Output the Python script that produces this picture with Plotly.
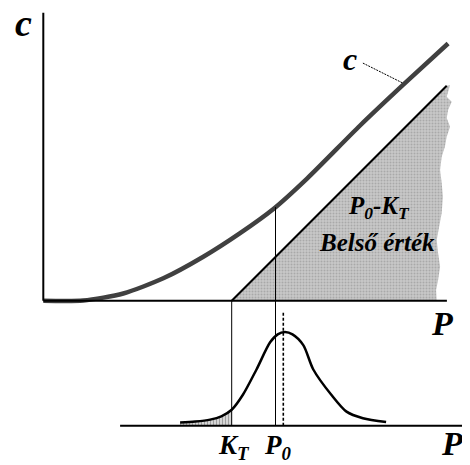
import numpy as np
import plotly.graph_objects as go

# ---- data ----
K_T = 47.1          # strike
P0 = 58.05          # current price
P_MEAN = 60.0       # mean of the distribution (dashed line)

# option value curve c(P)
c_p = [0, 10, 20, 30, 40, 49.2, 57.6, 66, 79.2, 90, 101.2]
c_v = [0, 0.05, 1.8, 5.6, 11.0, 16.9, 23.0, 30.6, 43.8, 54.0, 64.3]

# intrinsic value line (P - K_T)
intr_p = [K_T, 100.85]
intr_v = [0, 53.75]

# wavy right edge of shaded intrinsic area (top to bottom)
edge_p = [101.7, 100.85, 102.1, 101.2, 100.85, 101.7, 100.85, 100.4, 99.6, 99.2,
          99.6, 99.9, 99.6, 98.9, 98.35, 98.7, 99.2, 98.7, 98.2, 98.35]
edge_v = [53.9, 51.0, 49.75, 47.7, 45.7, 43.5, 41.0, 38.5, 36.0, 32.7,
          29.4, 26.0, 21.9, 18.5, 15.2, 11.9, 8.5, 5.2, 2.7, 0.0]

# price distribution at T
d_p = [34.2, 38, 41.7, 44.5, 47.1, 49.9, 53.3, 56.7, 58.6, 60.4, 62.3, 65, 67.5, 72.0, 75.8, 79.9, 85.7]
d_v = [0.035, 0.045, 0.065, 0.10, 0.17, 0.33, 0.60, 0.89, 0.975, 1.0, 0.975, 0.86, 0.60, 0.33, 0.15, 0.08, 0.04]

# ---- layout constants (page body has an 8px margin) ----
W, H = 462, 457
X_RANGE = [-8.825, 106.675]
Y_RANGE = [-41.075, 73.175]
Y2_RANGE = [-0.4194, 4.4578]


def y2_to_y(v):
    return Y_RANGE[0] + (v - Y2_RANGE[0]) / (Y2_RANGE[1] - Y2_RANGE[0]) * (Y_RANGE[1] - Y_RANGE[0])


FONT = "Liberation Serif, Times New Roman, serif"

fig = go.Figure()

# shaded intrinsic value area
sh_x = intr_p + edge_p + [K_T]
sh_y = intr_v + edge_v + [0]
fig.add_trace(go.Scatter(
    x=sh_x, y=sh_y, mode="lines", fill="toself", line=dict(width=0, color="rgba(0,0,0,0)"),
    fillcolor="#c4c4c4",
    fillpattern=dict(shape=".", bgcolor="#c8c8c8", fgcolor="#8a8a8a", size=3, solidity=0.35),
    hoverinfo="skip", showlegend=False))

# intrinsic line
fig.add_trace(go.Scatter(x=intr_p, y=intr_v, mode="lines",
                         line=dict(color="black", width=2), showlegend=False, hoverinfo="skip"))

# hatched tail of distribution (left of K_T)
tail_p = [p for p in d_p if p <= K_T]
tail_v = [v for p, v in zip(d_p, d_v) if p <= K_T]
fig.add_trace(go.Scatter(
    x=tail_p, y=tail_v, yaxis="y2", mode="lines", fill="tozeroy",
    line=dict(width=0, color="rgba(0,0,0,0)", shape="spline"),
    fillcolor="rgba(0,0,0,0)",
    fillpattern=dict(shape="|", bgcolor="#e8e8e8", fgcolor="#555555", size=3, solidity=0.5),
    hoverinfo="skip", showlegend=False))

# distribution curve
fig.add_trace(go.Scatter(x=d_p, y=d_v, yaxis="y2", mode="lines",
                         line=dict(color="black", width=2.5, shape="spline", smoothing=0.8),
                         showlegend=False, hoverinfo="skip"))

# option value curve
fig.add_trace(go.Scatter(x=c_p, y=c_v, mode="lines",
                         line=dict(color="#404040", width=4.5, shape="spline", smoothing=0.7),
                         showlegend=False, hoverinfo="skip"))

base_y = y2_to_y(0)
c_at_p0 = float(np.interp(P0, c_p, c_v))

shapes = [
    # upper axes
    dict(type="line", xref="x", yref="y", x0=0, x1=0, y0=0, y1=72.0, line=dict(color="black", width=2)),
    dict(type="line", xref="x", yref="y", x0=0, x1=100.9, y0=0, y1=0, line=dict(color="black", width=2)),
    # lower axis
    dict(type="line", xref="x", yref="y2", x0=19.2, x1=104.9, y0=0, y1=0, line=dict(color="black", width=2)),
    # verticals
    dict(type="line", xref="x", yref="y", x0=K_T, x1=K_T, y0=0, y1=base_y, line=dict(color="black", width=1)),
    dict(type="line", xref="x", yref="y", x0=P0, x1=P0, y0=c_at_p0, y1=base_y, line=dict(color="black", width=1)),
    dict(type="line", xref="x", yref="y2", x0=P_MEAN, x1=P_MEAN, y0=0, y1=1.22,
         line=dict(color="black", width=1.6, dash="3px,2px")),
    # leader line of "c" label
    dict(type="line", xref="x", yref="y", x0=79.9, x1=89.9, y0=59.4, y1=54.4,
         line=dict(color="black", width=1, dash="2px,1px")),
]


def ann(text, x, y, size, xanchor="center"):
    return dict(text=text, x=x, y=y, xref="x", yref="y", showarrow=False,
                xanchor=xanchor, yanchor="middle",
                font=dict(family=FONT, size=size, color="black", weight="bold", style="italic"))


annotations = [
    ann("c", -7.6, 69.5, 38, xanchor="left"),
    ann("c", 76.7, 60.4, 32),
    ann("P", 99.7, -5.8, 34),
    ann("P<sub>0</sub>-K<sub>T</sub>", 83.8, 23.2, 25),
    ann("Belső érték", 83.4, 14.5, 25),
    ann("K<sub>T</sub>", 47.6, -36.6, 27),
    ann("P<sub>0</sub>", 58.6, -36.6, 27),
    ann("P<sub>T</sub>", 99.0, -36.2, 34, xanchor="left"),
]

fig.update_layout(
    width=W, height=H, margin=dict(l=0, r=0, t=0, b=0),
    paper_bgcolor="white", plot_bgcolor="white",
    xaxis=dict(range=X_RANGE, visible=False, fixedrange=True),
    yaxis=dict(range=Y_RANGE, visible=False, fixedrange=True),
    yaxis2=dict(range=Y2_RANGE, visible=False, overlaying="y", fixedrange=True),
    shapes=shapes, annotations=annotations, showlegend=False,
)

fig.write_html("out.html")
